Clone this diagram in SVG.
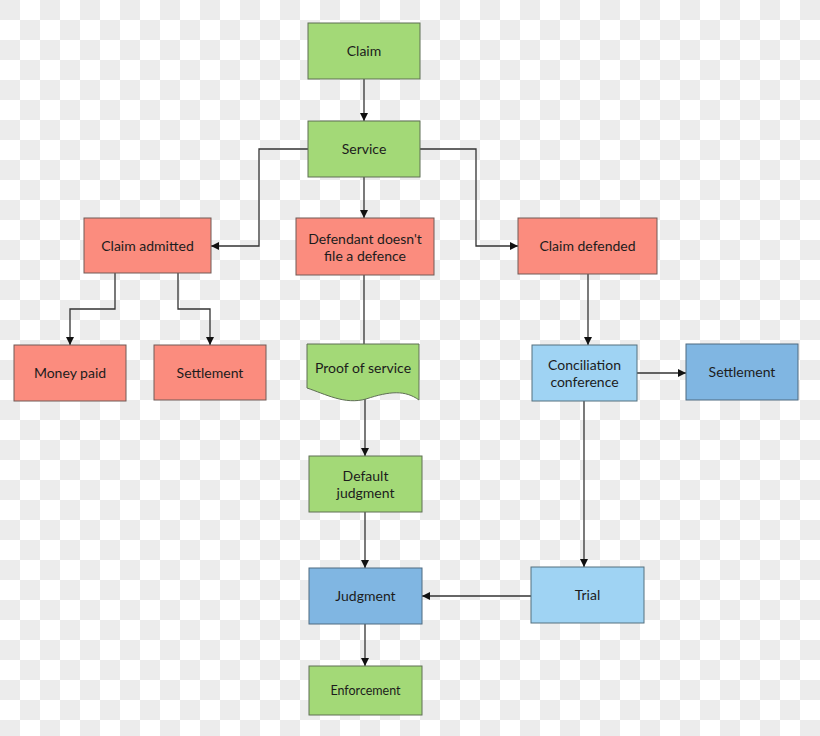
<svg xmlns="http://www.w3.org/2000/svg" width="820" height="736" viewBox="0 0 820 736">
<defs>
<pattern id="chk" width="40" height="40" patternUnits="userSpaceOnUse">
<rect width="40" height="40" fill="#ffffff"/>
<rect x="0" y="0" width="20" height="20" fill="#ececec"/>
<rect x="20" y="20" width="20" height="20" fill="#ececec"/>
</pattern>
<marker id="arr" viewBox="0 0 10 10" refX="10" refY="5" markerWidth="8" markerHeight="8" markerUnits="userSpaceOnUse" orient="auto">
<path d="M0,0 L10,5 L0,10 Z" fill="#111"/>
</marker>
<style>
.g{fill:#a3d977;stroke:#5f6f55;stroke-width:1}
.r{fill:#fb8c7e;stroke:#705a56;stroke-width:1}
.lb{fill:#9fd3f3;stroke:#55707f;stroke-width:1}
.b{fill:#80b6e2;stroke:#4f6a80;stroke-width:1}
text{font-family:Lato,"Open Sans","Liberation Sans",sans-serif;font-size:14px;fill:#1c1c1c;text-anchor:middle}
.sm{font-size:12.5px}
.c{fill:none;stroke:#333;stroke-width:1.3}
.ca{fill:none;stroke:#333;stroke-width:1.3;marker-end:url(#arr)}
</style>
</defs>
<rect width="820" height="736" fill="url(#chk)"/>

<g id="connectors">
<line class="ca" x1="364" y1="79" x2="364" y2="121"/>
<polyline class="ca" points="308,149 259,149 259,246 211,246"/>
<polyline class="ca" points="420,149 476,149 476,246 518,246"/>
<line class="ca" x1="364" y1="177" x2="364" y2="218"/>
<polyline class="ca" points="115,273 115,309 70,309 70,345"/>
<polyline class="ca" points="178,273 178,309 210,309 210,345"/>
<line class="c" x1="364" y1="275" x2="364" y2="344"/>
<line class="ca" x1="365" y1="398" x2="365" y2="456"/>
<line class="ca" x1="365" y1="512" x2="365" y2="568"/>
<line class="ca" x1="588" y1="274" x2="588" y2="345"/>
<line class="ca" x1="637" y1="373" x2="686" y2="373"/>
<line class="ca" x1="584" y1="401" x2="584" y2="567"/>
<line class="ca" x1="531" y1="596" x2="422" y2="596"/>
<line class="ca" x1="365" y1="624" x2="365" y2="666"/>
</g>

<g id="claim"><rect class="g" x="308" y="23" width="112" height="56"/><text x="364" y="56">Claim</text></g>
<g id="service"><rect class="g" x="308" y="121" width="112" height="56"/><text x="364" y="154">Service</text></g>
<g id="claim-admitted"><rect class="r" x="84" y="218" width="127" height="55"/><text x="147.5" y="250.5">Claim admitted</text></g>
<g id="defendant-no-defence"><rect class="r" x="296" y="218" width="138" height="57"/><text x="365" y="243.5">Defendant doesn't</text><text x="365" y="260.5">file a defence</text></g>
<g id="claim-defended"><rect class="r" x="518" y="218" width="139" height="56"/><text x="587.5" y="251">Claim defended</text></g>
<g id="money-paid"><rect class="r" x="14" y="345" width="112" height="56"/><text x="70" y="378">Money paid</text></g>
<g id="settlement-red"><rect class="r" x="154" y="345" width="112" height="55"/><text x="210" y="377.5">Settlement</text></g>
<g id="proof-of-service"><path class="g" d="M307,344 H419 V400 C405,390 390,391 366,399 C345,405 325,394 307,388 Z"/><text x="363" y="373">Proof of service</text></g>
<g id="conciliation"><rect class="lb" x="532" y="345" width="105" height="56"/><text x="584.5" y="369.5">Conciliation</text><text x="584.5" y="386.5">conference</text></g>
<g id="settlement-blue"><rect class="b" x="686" y="344" width="112" height="56"/><text x="742" y="377">Settlement</text></g>
<g id="default-judgment"><rect class="g" x="309" y="456" width="113" height="56"/><text x="365.5" y="480.5">Default</text><text x="365.5" y="497.5">judgment</text></g>
<g id="judgment"><rect class="b" x="309" y="568" width="113" height="56"/><text x="365.5" y="601">Judgment</text></g>
<g id="trial"><rect class="lb" x="531" y="567" width="113" height="56"/><text x="587.5" y="600">Trial</text></g>
<g id="enforcement"><rect class="g" x="309" y="666" width="113" height="49"/><text class="sm" x="365.5" y="694.5">Enforcement</text></g>
</svg>
